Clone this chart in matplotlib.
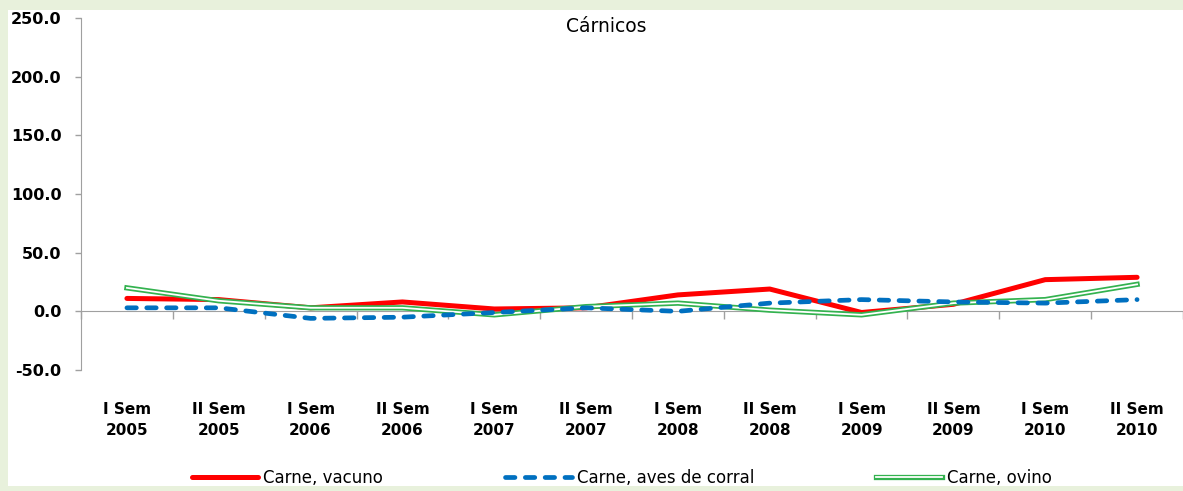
import matplotlib
matplotlib.use("Agg")
import matplotlib.pyplot as plt
import matplotlib.patheffects as pe
from matplotlib.patches import Rectangle
import numpy as np

plt.rcParams['font.family'] = ['DejaVu Sans']

# data
periodos = ["I Sem\n2005", "II Sem\n2005", "I Sem\n2006", "II Sem\n2006",
            "I Sem\n2007", "II Sem\n2007", "I Sem\n2008", "II Sem\n2008",
            "I Sem\n2009", "II Sem\n2009", "I Sem\n2010", "II Sem\n2010"]
vacuno = [11, 10, 3, 8, 2, 3, 14, 19, -1, 6, 27, 29]
aves = [3, 3, -6, -5, -1, 3, 0, 7, 10, 8, 7, 10]
ovino = [20, 9, 3, 3, -3, 4, 7, 1, -3, 7, 10, 23]
y_ticks = [-50, 0, 50, 100, 150, 200, 250]

W, H = 1183, 491
fig = plt.figure(figsize=(W / 100, H / 100), dpi=100)
fig.patch.set_facecolor('#e8f1dc')
# white chart area
fig.patches.append(Rectangle((8 / W, 5 / H), (W - 8) / W, (H - 15) / H,
                             transform=fig.transFigure, facecolor='white',
                             edgecolor='none', zorder=-5))

ax = fig.add_axes([81 / W, 1 - 370 / H, (W - 81) / W, (370 - 18) / H])
ax.set_facecolor('none')
ax.set_zorder(2)

x = np.arange(len(periodos))
ax.plot(x, vacuno, color='#ff0000', lw=3.6, solid_capstyle='round',
        label='Carne, vacuno', zorder=3)
ax.plot(x, aves, color='#0070c0', lw=3.4, ls=(0, (2.0, 2.2)),
        dash_capstyle='round', label='Carne, aves de corral', zorder=4)
ax.plot(x, ovino, color='white', lw=1.3, label='Carne, ovino', zorder=3,
        path_effects=[pe.Stroke(linewidth=3.8, foreground='#33b24f'), pe.Normal()])

ax.set_xlim(-0.5, 11.5)
ax.set_ylim(-50, 250)
ax.set_yticks(y_ticks)
ax.set_yticklabels([f"{v:.1f}" for v in y_ticks])

for s in ['top', 'right']:
    ax.spines[s].set_visible(False)
ax.spines['left'].set_color('#a0a0a0')
ax.spines['bottom'].set_color('#a0a0a0')
ax.spines['bottom'].set_position(('data', 0))
ax.spines['bottom'].set_bounds(-0.5, 11.5)

ax.tick_params(axis='y', colors='#a0a0a0', length=4, width=1, labelcolor='black',
               labelsize=11.5, pad=10)
ax.set_xticks(x)
ax.set_xticklabels(periodos, linespacing=1.5)
ax.set_xticks(np.arange(-0.5, 12, 1), minor=True)
ax.tick_params(axis='x', which='major', length=0, labelsize=11, pad=65)
ax.tick_params(axis='x', which='minor', colors='#a0a0a0', length=6, width=1)
for lab in ax.get_xticklabels() + ax.get_yticklabels():
    lab.set_fontweight('bold')

fig.text(606 / W, 1 - 27 / H, 'Cárnicos', ha='center', va='center', fontsize=13.5)

ax.legend(loc='center', bbox_to_anchor=(622 / W, 1 - 478 / H),
          bbox_transform=fig.transFigure, ncol=3, frameon=False,
          fontsize=12, handlelength=4.0, handletextpad=0.3, columnspacing=7.3)

fig.savefig('out.png', dpi=100, facecolor=fig.get_facecolor())
